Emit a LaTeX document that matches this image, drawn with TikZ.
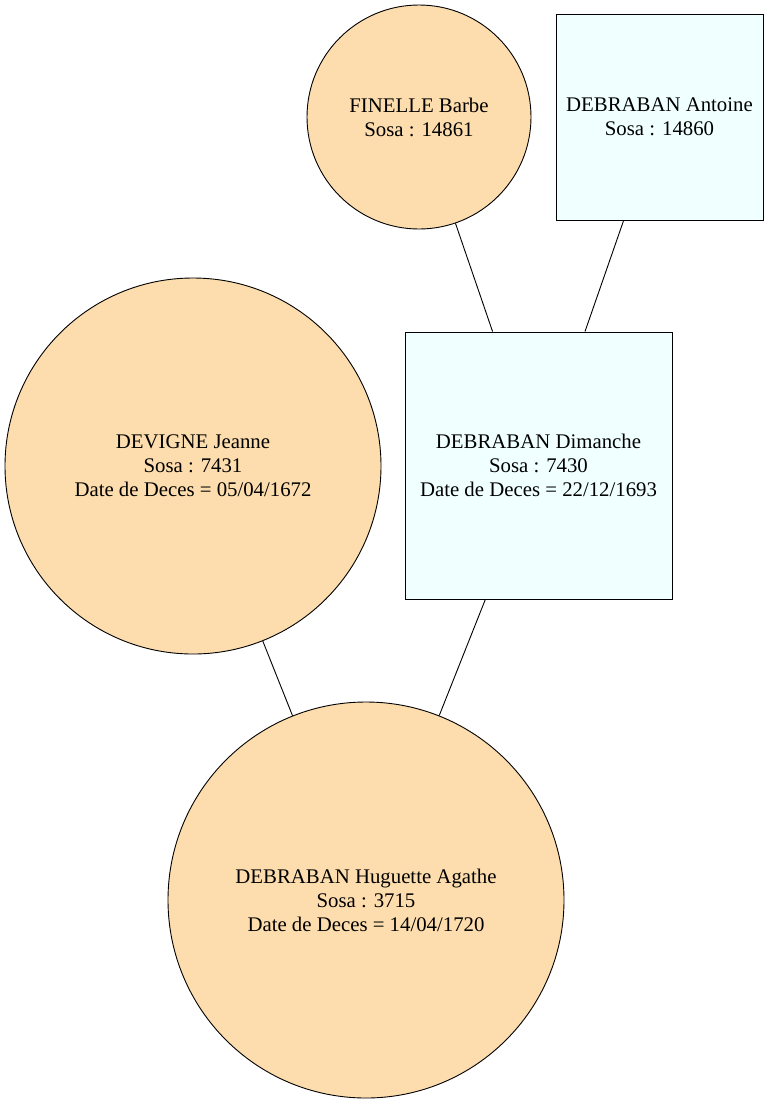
\documentclass[tikz,border=0pt]{standalone}
\usepackage{fontspec}
\setmainfont{Liberation Serif}
\begin{document}
\begin{tikzpicture}[x=1pt,y=-1pt,
  person/.style={draw=black,line width=0.9pt,align=center,inner sep=0pt,
    font=\fontsize{20.8}{24}\selectfont},
  female/.style={person,circle,fill=peach},
  male/.style={person,rectangle,fill=azureish},
  link/.style={draw=black,line width=0.9pt}]
\definecolor{peach}{HTML}{FDDDAD}
\definecolor{azureish}{HTML}{F0FFFF}
\useasboundingbox (0,0) rectangle (768,1104);
\node[female,minimum size=224pt] (barbe) at (419,117) {FINELLE Barbe\\Sosa : 14861};
\node[male,minimum width=207pt,minimum height=206pt] (antoine) at (659.5,117) {DEBRABAN Antoine\\Sosa : 14860};
\node[male,minimum width=267pt,minimum height=267pt] (dimanche) at (538.5,465.5) {DEBRABAN Dimanche\\Sosa : 7430\\Date de Deces = 22/12/1693};
\node[female,minimum size=376pt] (jeanne) at (193,466) {DEVIGNE Jeanne\\Sosa : 7431\\Date de Deces = 05/04/1672};
\node[female,minimum size=396pt] (huguette) at (366,900) {DEBRABAN Huguette Agathe\\Sosa : 3715\\Date de Deces = 14/04/1720};
\draw[link] (barbe) -- (dimanche);
\draw[link] (antoine) -- (dimanche);
\draw[link] (jeanne) -- (huguette);
\draw[link] (dimanche) -- (huguette);
\end{tikzpicture}
\end{document}
